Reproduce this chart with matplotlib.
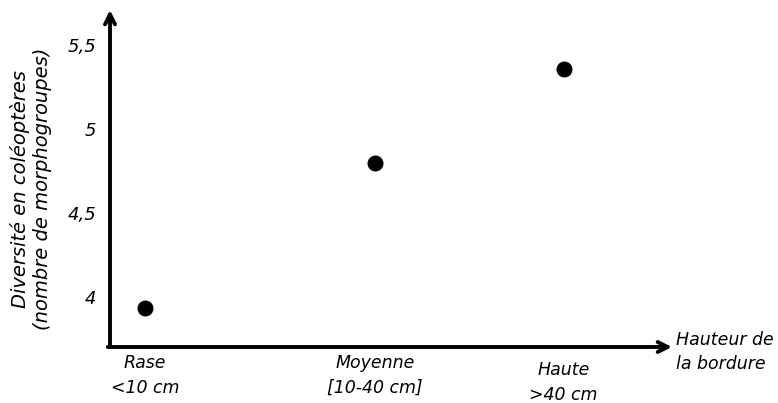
import matplotlib.pyplot as plt

categories = ["Rase\n<10 cm", "Moyenne\n[10-40 cm]", "Haute\n>40 cm"]
diversity = [3.93, 4.80, 5.36]
y_ticks = [4, 4.5, 5, 5.5]
y_tick_labels = ["4", "4,5", "5", "5,5"]

# horizontal layout of the three groups (not evenly spaced in the original)
x_pos = [0, 1, 1.82]

plt.rcParams['font.family'] = ['DejaVu Sans']

fig = plt.figure(figsize=(7.78, 4.03), dpi=100)
ax = fig.add_axes([110 / 778, 56 / 403, 562 / 778, 337 / 403])

ax.scatter(x_pos, diversity, s=110, color='black', zorder=3)

ax.set_xlim(-0.152, 2.291)
ax.set_ylim(3.70, 5.71)

for s in ax.spines.values():
    s.set_visible(False)

# axes drawn as arrows
ax.annotate('', xy=(1, 0), xytext=(-0.004, 0), xycoords='axes fraction',
            arrowprops=dict(arrowstyle='->', lw=2.8, color='black',
                            mutation_scale=18, shrinkA=0, shrinkB=0))
ax.annotate('', xy=(0, 1), xytext=(0, 0), xycoords='axes fraction',
            arrowprops=dict(arrowstyle='->', lw=2.8, color='black',
                            mutation_scale=18, shrinkA=0, shrinkB=0))

ax.set_yticks(y_ticks)
ax.set_yticklabels(y_tick_labels, fontsize=13, style='italic')
ax.set_xticks(x_pos)
ax.set_xticklabels(categories, fontsize=12.5, style='italic', linespacing=1.5)
ax.tick_params(axis='both', length=0)
ax.tick_params(axis='y', pad=10)
ax.tick_params(axis='x', pad=5)
# "Haute" sits a little lower than the other two
ax.get_xticklabels()[2].set_y(-0.02)

ax.set_ylabel("Diversité en coléoptères\n(nombre de morphogroupes)",
              fontsize=14, style='italic', linespacing=1.2, va='center')
ax.yaxis.set_label_coords(-0.14, 0.47)

ax.text(1.007, -0.015, "Hauteur de\nla bordure", transform=ax.transAxes,
        fontsize=12.5, style='italic', ha='left', va='center', linespacing=1.45)

fig.savefig("out.png", dpi=100)
